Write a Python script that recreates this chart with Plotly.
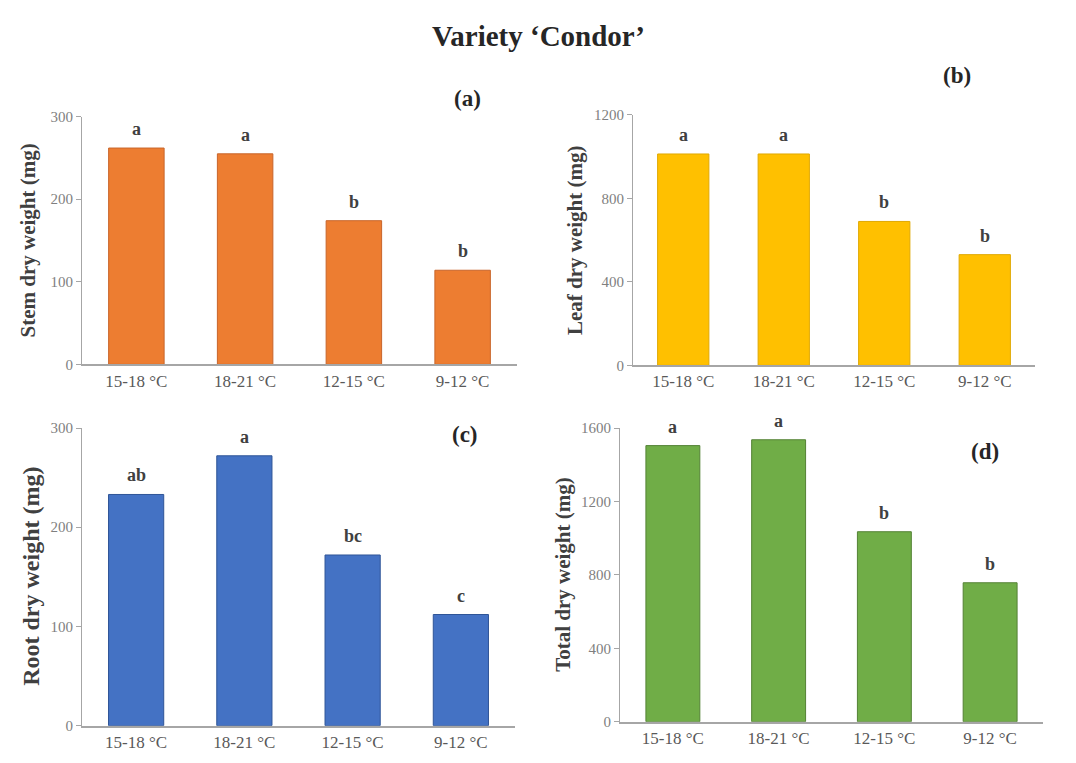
import plotly.graph_objects as go

categories = ["15-18 °C", "18-21 °C", "12-15 °C", "9-12 °C"]
stem = [262, 255, 174, 114]
leaf = [1012, 1012, 689, 530]
root = [233, 272, 172, 112]
total = [1504, 1536, 1035, 757]
stem_letters = ["a", "a", "b", "b"]
leaf_letters = ["a", "a", "b", "b"]
root_letters = ["ab", "a", "bc", "c"]
total_letters = ["a", "a", "b", "b"]

W, H = 1076, 763
SERIF = "Liberation Serif, Times New Roman, serif"

panels = [
    dict(vals=stem, letters=stem_letters, color="#ED7D31", line="#C8652A",
         x=(82, 517), y=(111, 364), rng=300, dtick=100,
         title="Stem dry weight (mg)", tx=28, tsize=21, lab="(a)", lx=467, ly=92),
    dict(vals=leaf, letters=leaf_letters, color="#FFC000", line="#E0A800",
         x=(633, 1035), y=(109, 365), rng=1200, dtick=400,
         title="Leaf dry weight (mg)", tx=575, tsize=21, lab="(b)", lx=957, ly=69),
    dict(vals=root, letters=root_letters, color="#4472C4", line="#2F5597",
         x=(82, 515), y=(429, 733), rng=300, dtick=100,
         title="Root dry weight (mg)", tx=31, tsize=24, lab="(c)", lx=465, ly=436),
    dict(vals=total, letters=total_letters, color="#70AD47", line="#548235",
         x=(620, 1043), y=(429, 729), rng=1600, dtick=400,
         title="Total dry weight (mg)", tx=563, tsize=21, lab="(d)", lx=985, ly=453),
]

fig = go.Figure()
annotations = []
layout = {}
for i, p in enumerate(panels):
    n = "" if i == 0 else str(i + 1)
    xa, ya = "x" + n, "y" + n
    fig.add_trace(go.Bar(
        x=categories, y=p["vals"], xaxis=xa, yaxis=ya,
        marker=dict(color=p["color"], line=dict(color=p["line"], width=1)),
        showlegend=False, hoverinfo="x+y",
    ))
    layout["xaxis" + n] = dict(
        domain=[p["x"][0] / W, p["x"][1] / W], anchor=ya,
        showline=True, linecolor="#A6A6A6", linewidth=1.5,
        ticks="", showgrid=False, zeroline=False,
        tickfont=dict(family=SERIF, size=17, color="#595959"),
        fixedrange=True,
    )
    layout["yaxis" + n] = dict(
        domain=[1 - p["y"][1] / H, 1 - p["y"][0] / H], anchor=xa,
        range=[0, p["rng"]], dtick=p["dtick"],
        showline=True, linecolor="#A6A6A6", linewidth=1,
        ticks="outside", ticklen=5, tickcolor="#A6A6A6",
        showgrid=False, zeroline=False,
        tickfont=dict(family=SERIF, size=15, color="#7F7F7F"),
        fixedrange=True,
    )
    for c, v, l in zip(categories, p["vals"], p["letters"]):
        annotations.append(dict(
            x=c, y=v, xref=xa, yref=ya, text="<b>%s</b>" % l, showarrow=False,
            yanchor="bottom", yshift=7,
            font=dict(family=SERIF, size=18, color="#404040"),
        ))
    annotations.append(dict(
        x=p["tx"] / W, y=1 - (p["y"][0] + p["y"][1]) / 2 / H, xref="paper", yref="paper",
        text="<b>%s</b>" % p["title"], textangle=-90, showarrow=False,
        xanchor="center", yanchor="middle",
        font=dict(family=SERIF, size=p["tsize"], color="#404040"),
    ))
    annotations.append(dict(
        x=p["lx"] / W, y=1 - p["ly"] / H, xref="paper", yref="paper",
        text="<b>%s</b>" % p["lab"], showarrow=False,
        xanchor="center", yanchor="middle",
        font=dict(family=SERIF, size=23, color="#262626"),
    ))

annotations.append(dict(
    x=538 / W, y=1 - 29 / H, xref="paper", yref="paper",
    text="<b>Variety ‘Condor’</b>", showarrow=False,
    xanchor="center", yanchor="middle",
    font=dict(family=SERIF, size=29, color="#262626"),
))

fig.update_layout(
    width=W, height=H, autosize=False, margin=dict(l=0, r=0, t=0, b=0),
    paper_bgcolor="white", plot_bgcolor="white",
    bargap=0.49, annotations=annotations, **layout,
)
fig.write_html(
    "out.html",
    config={"responsive": False, "displayModeBar": False},
    post_script="document.body.style.margin='0';document.body.style.overflow='hidden';",
)
